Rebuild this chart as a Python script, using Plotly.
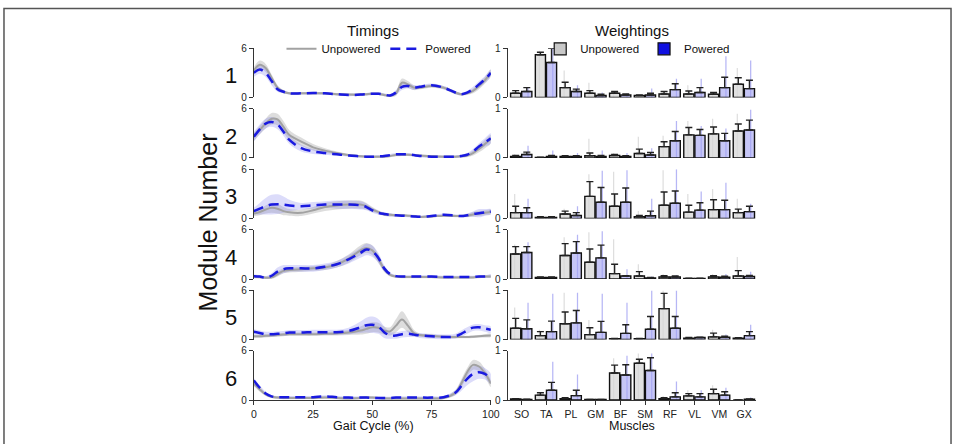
import plotly.graph_objects as go
from plotly.subplots import make_subplots

# ---------------- data ----------------
gait = [0, 2.5, 5, 7.5, 10, 12.5, 15, 20, 25, 30, 35, 40, 45, 47.5, 50, 52.5, 55, 57.5,
        60, 62.5, 65, 67.5, 70, 75, 80, 85, 87.5, 90, 92.5, 95, 97.5, 100]

timing_unp = [
    [3.3,4.0,3.6,2.4,1.2,0.7,0.5, 0.5,0.5,0.5,0.4,0.35,0.35, 0.4,0.45,0.45,0.3,0.2,0.5,1.8,1.6,1.2,1.2, 1.4,1.2,0.6,0.4,0.5,0.8,1.4,2.1,3.0],
    [2.6,3.4,4.2,4.8,4.7,3.8,2.8, 2.0,1.3,0.9,0.6,0.35,0.2, 0.15,0.15,0.15,0.15,0.25,0.35,0.4,0.4,0.35,0.3, 0.2,0.15,0.15,0.2,0.3,0.6,1.1,1.7,2.3],
    [0.6,0.8,1.1,1.3,1.2,0.9,0.75, 0.7,1.0,1.4,1.6,1.7,1.7, 1.5,1.1,0.8,0.5,0.45,0.4,0.4,0.35,0.3,0.2, 0.25,0.35,0.3,0.3,0.35,0.5,0.6,0.7,0.8],
    [0.3,0.25,0.15,0.2,0.6,1.0,1.1, 1.2,1.3,1.4,1.8,2.5,3.5, 3.8,3.5,2.5,1.2,0.5,0.3,0.25,0.25,0.25,0.25, 0.25,0.2,0.2,0.2,0.2,0.2,0.25,0.3,0.3],
    [0.4,0.4,0.45,0.5,0.55,0.6,0.65, 0.65,0.65,0.7,0.75,0.85,1.1, 1.3,1.5,1.45,1.1,1.0,1.7,2.45,1.7,0.8,0.55, 0.45,0.35,0.3,0.3,0.3,0.35,0.4,0.45,0.5],
    [2.0,1.3,0.7,0.4,0.3,0.25,0.25, 0.25,0.25,0.3,0.25,0.2,0.25, 0.3,0.3,0.25,0.2,0.2,0.2,0.2,0.2,0.2,0.2, 0.2,0.25,0.9,2.0,3.4,4.3,4.1,3.3,2.0],
]
timing_pow = [
    [3.0,3.4,3.0,2.0,1.0,0.7,0.5, 0.5,0.55,0.5,0.4,0.3,0.35, 0.4,0.45,0.45,0.35,0.25,0.6,1.3,1.4,1.2,1.3, 1.5,1.2,0.6,0.4,0.6,1.0,1.6,2.2,3.0],
    [2.6,3.5,4.2,4.4,4.1,3.2,2.2, 1.2,0.8,0.6,0.45,0.3,0.2, 0.15,0.15,0.2,0.25,0.35,0.45,0.45,0.45,0.35,0.25, 0.15,0.15,0.15,0.25,0.4,0.8,1.4,1.9,2.4],
    [0.9,1.2,1.5,1.7,1.75,1.7,1.6, 1.5,1.6,1.7,1.7,1.7,1.6, 1.4,1.0,0.7,0.55,0.45,0.4,0.35,0.3,0.25,0.2, 0.3,0.45,0.35,0.3,0.4,0.55,0.65,0.75,0.85],
    [0.35,0.3,0.15,0.4,0.9,1.2,1.3, 1.3,1.3,1.5,1.8,2.4,3.2, 3.6,3.4,2.6,1.3,0.6,0.35,0.3,0.3,0.3,0.3, 0.3,0.25,0.25,0.25,0.25,0.25,0.3,0.3,0.4],
    [0.95,0.8,0.65,0.65,0.7,0.75,0.85, 0.85,0.9,0.9,0.9,1.05,1.5, 1.75,1.8,1.6,0.9,0.5,0.5,0.65,0.7,0.6,0.5, 0.4,0.3,0.4,0.7,1.1,1.45,1.5,1.35,1.2],
    [2.4,1.5,0.8,0.45,0.35,0.35,0.35, 0.35,0.35,0.45,0.35,0.3,0.3, 0.3,0.25,0.25,0.25,0.25,0.3,0.3,0.3,0.3,0.3, 0.3,0.35,0.9,1.7,2.6,3.2,3.4,3.2,2.6],
]
timing_unp_sd = [
    [0.4,0.5,0.5,0.4,0.3,0.2,0.15, 0.15,0.15,0.15,0.15,0.15,0.15, 0.15,0.15,0.15,0.15,0.15,0.3,0.5,0.4,0.3,0.2, 0.2,0.2,0.2,0.15,0.2,0.3,0.4,0.4,0.4],
    [0.5,0.5,0.6,0.7,0.7,0.7,0.6, 0.5,0.4,0.3,0.2,0.15,0.15, 0.15,0.15,0.15,0.15,0.15,0.15,0.15,0.15,0.15,0.15, 0.15,0.15,0.15,0.15,0.2,0.3,0.4,0.5,0.5],
    [0.3,0.4,0.5,0.6,0.6,0.5,0.4, 0.4,0.4,0.5,0.5,0.5,0.5, 0.4,0.3,0.2,0.2,0.2,0.15,0.15,0.15,0.15,0.15, 0.15,0.15,0.15,0.15,0.2,0.3,0.3,0.3,0.3],
    [0.2,0.2,0.2,0.2,0.3,0.3,0.3, 0.3,0.3,0.3,0.4,0.5,0.6, 0.6,0.6,0.5,0.3,0.2,0.15,0.15,0.15,0.15,0.15, 0.15,0.15,0.15,0.15,0.15,0.15,0.15,0.15,0.15],
    [0.2,0.2,0.2,0.2,0.2,0.2,0.2, 0.2,0.2,0.2,0.25,0.3,0.5, 0.6,0.6,0.6,0.5,0.5,0.8,1.0,0.8,0.4,0.2, 0.2,0.15,0.15,0.15,0.15,0.15,0.15,0.2,0.2],
    [0.3,0.3,0.2,0.15,0.15,0.15,0.15, 0.15,0.15,0.15,0.15,0.15,0.15, 0.15,0.15,0.15,0.15,0.15,0.15,0.15,0.15,0.15,0.15, 0.15,0.15,0.3,0.5,0.5,0.6,0.6,0.5,0.4],
]
timing_pow_sd = [
    [0.5,0.5,0.5,0.5,0.3,0.2,0.15, 0.15,0.15,0.15,0.15,0.15,0.15, 0.15,0.15,0.15,0.15,0.15,0.3,0.4,0.3,0.3,0.2, 0.2,0.2,0.2,0.15,0.2,0.3,0.4,0.4,0.4],
    [0.6,0.6,0.6,0.6,0.6,0.5,0.5, 0.4,0.3,0.2,0.15,0.15,0.15, 0.15,0.15,0.15,0.15,0.15,0.15,0.15,0.15,0.15,0.15, 0.15,0.15,0.15,0.15,0.2,0.3,0.4,0.5,0.6],
    [0.4,0.7,1.0,1.2,1.2,1.0,0.7, 0.4,0.4,0.4,0.5,0.5,0.5, 0.4,0.3,0.2,0.2,0.2,0.15,0.15,0.15,0.15,0.15, 0.15,0.15,0.15,0.15,0.2,0.3,0.5,0.4,0.3],
    [0.2,0.2,0.2,0.3,0.5,0.5,0.4, 0.4,0.4,0.4,0.4,0.5,0.6, 0.7,0.7,0.6,0.4,0.2,0.15,0.15,0.15,0.15,0.15, 0.15,0.15,0.15,0.15,0.15,0.15,0.15,0.15,0.2],
    [0.3,0.3,0.3,0.3,0.3,0.3,0.3, 0.3,0.3,0.3,0.3,0.4,0.7, 0.9,1.0,0.9,0.7,0.4,0.4,0.4,0.4,0.3,0.3, 0.3,0.3,0.3,0.4,0.4,0.4,0.4,0.4,0.4],
    [0.3,0.3,0.2,0.15,0.15,0.15,0.15, 0.15,0.15,0.15,0.15,0.15,0.15, 0.15,0.15,0.15,0.15,0.15,0.15,0.15,0.15,0.15,0.15, 0.15,0.15,0.3,0.6,0.8,0.9,0.8,0.7,0.6],
]

muscles = ["SO", "TA", "PL", "GM", "BF", "SM", "RF", "VL", "VM", "GX"]

weight_unp = [
    [0.085,0.87,0.2,0.085,0.085,0.04,0.07,0.07,0.065,0.27],
    [0.03,0.01,0.03,0.045,0.05,0.09,0.23,0.47,0.49,0.55],
    [0.12,0.02,0.09,0.45,0.25,0.035,0.27,0.13,0.18,0.12],
    [0.51,0.03,0.48,0.34,0.11,0.06,0.04,0.01,0.04,0.06],
    [0.23,0.08,0.32,0.1,0.015,0.015,0.63,0.025,0.055,0.025],
    [0.02,0.1,0.03,0.01,0.55,0.75,0.03,0.085,0.13,0.0],
]
weight_unp_sd = [
    [0.055,0.05,0.11,0.055,0.035,0.01,0.05,0.06,0.035,0.13],
    [0.02,0.005,0.015,0.055,0.02,0.09,0.1,0.15,0.14,0.14],
    [0.13,0.015,0.06,0.3,0.25,0.025,0.27,0.14,0.2,0.07],
    [0.15,0.01,0.24,0.27,0.19,0.09,0.03,0.005,0.03,0.11],
    [0.2,0.08,0.24,0.14,0.005,0.005,0.31,0.015,0.075,0.01],
    [0.01,0.05,0.02,0.0,0.16,0.08,0.02,0.045,0.09,0.0],
]
weight_pow = [
    [0.12,0.71,0.12,0.04,0.05,0.05,0.16,0.1,0.2,0.18],
    [0.07,0.03,0.03,0.03,0.03,0.06,0.35,0.46,0.35,0.57],
    [0.12,0.02,0.06,0.33,0.33,0.055,0.31,0.17,0.18,0.14],
    [0.54,0.03,0.53,0.43,0.06,0.02,0.04,0.01,0.035,0.05],
    [0.22,0.16,0.34,0.145,0.125,0.21,0.23,0.04,0.045,0.08],
    [0.01,0.2,0.09,0.01,0.51,0.6,0.065,0.065,0.1,0.015],
]
weight_pow_sd = [
    [0.08,0.29,0.05,0.025,0.02,0.035,0.12,0.1,0.21,0.17],
    [0.05,0.02,0.015,0.02,0.015,0.05,0.19,0.12,0.15,0.2],
    [0.1,0.015,0.06,0.3,0.29,0.095,0.25,0.15,0.19,0.11],
    [0.12,0.01,0.23,0.26,0.01,0.01,0.02,0.005,0.02,0.025],
    [0.18,0.215,0.25,0.225,0.175,0.26,0.24,0.01,0.025,0.08],
    [0.005,0.16,0.11,0.0,0.21,0.26,0.085,0.065,0.07,0.005],
]
# largest individual-subject weighting (faint strips)
weight_unp_max = [
    [0.15,0.95,0.55,0.3,0.12,0.05,0.12,0.25,0.1,0.6],
    [0.08,0.02,0.05,0.39,0.1,0.43,0.45,0.75,0.8,0.9],
    [0.5,0.05,0.2,0.9,0.95,0.15,0.98,0.5,0.6,0.4],
    [0.7,0.05,0.85,0.95,0.81,0.3,0.1,0.02,0.1,0.45],
    [0.65,0.2,0.95,0.4,0.03,0.03,1.0,0.05,0.2,0.05],
    [0.04,0.15,0.06,0.02,0.85,0.95,0.08,0.2,0.3,0.01],
]
weight_pow_max = [
    [0.2,1.0,0.25,0.1,0.08,0.18,0.38,0.38,0.84,0.75],
    [0.25,0.15,0.1,0.15,0.1,0.2,0.75,0.65,0.6,0.98],
    [0.4,0.05,0.25,0.97,0.98,0.4,1.0,0.55,0.73,0.3],
    [0.75,0.04,0.9,0.97,0.2,0.05,0.08,0.02,0.1,0.15],
    [0.75,0.93,0.95,0.93,0.75,1.0,1.0,0.06,0.1,0.3],
    [0.02,0.78,0.52,0.02,0.9,0.95,0.38,0.2,0.25,0.05],
]
gait_ticks = [0, 25, 50, 75, 100]

# ---------------- figure ----------------
W, H = 962, 444
FONT = "Liberation Sans, Arial, Helvetica, sans-serif"
BLUE = "#1a1ae0"
GRAY_LINE = "#a2a2a2"

def pxx(x):
    return x / W

def pyy(y):
    return 1 - y / H

fig = make_subplots(rows=6, cols=2)
tops = [43.5 + 62.2 * i for i in range(6)]
panel_h = 50.5
mx = list(range(len(muscles)))

for i in range(6):
    r = i + 1
    # ----- timings -----
    up = [m + s for m, s in zip(timing_unp[i], timing_unp_sd[i])]
    lo = [m - s for m, s in zip(timing_unp[i], timing_unp_sd[i])]
    fig.add_trace(go.Scatter(x=gait + gait[::-1], y=up + lo[::-1], fill="toself",
                             fillcolor="rgba(150,150,150,0.32)", line=dict(width=0, shape="spline"),
                             mode="lines", showlegend=False, hoverinfo="skip"), row=r, col=1)
    up = [m + s for m, s in zip(timing_pow[i], timing_pow_sd[i])]
    lo = [m - s for m, s in zip(timing_pow[i], timing_pow_sd[i])]
    fig.add_trace(go.Scatter(x=gait + gait[::-1], y=up + lo[::-1], fill="toself",
                             fillcolor="rgba(120,120,235,0.26)", line=dict(width=0, shape="spline"),
                             mode="lines", showlegend=False, hoverinfo="skip"), row=r, col=1)
    fig.add_trace(go.Scatter(x=gait, y=timing_unp[i], mode="lines", name="Unpowered",
                             line=dict(color=GRAY_LINE, width=2, shape="spline"),
                             showlegend=(i == 0), legend="legend"), row=r, col=1)
    fig.add_trace(go.Scatter(x=gait, y=timing_pow[i], mode="lines", name="Powered",
                             line=dict(color=BLUE, width=2.5, shape="spline", dash="10px,6px"),
                             showlegend=(i == 0), legend="legend"), row=r, col=1)

    # ----- weightings -----
    fig.add_trace(go.Bar(x=mx, y=weight_unp_max[i], width=0.05, offset=-0.3,
                         marker=dict(color="rgba(200,200,200,0.6)", line=dict(width=0)),
                         showlegend=False, hoverinfo="skip"), row=r, col=2)
    fig.add_trace(go.Bar(x=mx, y=weight_pow_max[i], width=0.05, offset=0.24,
                         marker=dict(color="rgba(110,110,235,0.5)", line=dict(width=0)),
                         showlegend=False, hoverinfo="skip"), row=r, col=2)
    fig.add_trace(go.Bar(x=mx, y=weight_unp[i], width=0.41, offset=-0.44,
                         marker=dict(color="rgba(215,215,215,0.75)", line=dict(color="#111", width=1.4)),
                         error_y=dict(type="data", array=weight_unp_sd[i], arrayminus=[0] * 10,
                                      symmetric=False, color="#222", thickness=1.4, width=3.5),
                         showlegend=False), row=r, col=2)
    fig.add_trace(go.Bar(x=mx, y=weight_pow[i], width=0.41, offset=0.01,
                         marker=dict(color="rgba(160,160,240,0.6)", line=dict(color="#111", width=1.4)),
                         error_y=dict(type="data", array=weight_pow_sd[i], arrayminus=[0] * 10,
                                      symmetric=False, color="#222", thickness=1.4, width=3.5),
                         showlegend=False), row=r, col=2)

    dom_y = [pyy(tops[i] + panel_h), pyy(tops[i])]
    last = (i == 5)
    fig.update_xaxes(row=r, col=1, domain=[pxx(254), pxx(494)], range=[0, 100],
                     visible=last, showline=True, linecolor="#333", linewidth=1,
                     ticks="outside", ticklen=4, tickcolor="#333", tickvals=gait_ticks,
                     tickfont=dict(size=10.5, color="#222"), showgrid=False, zeroline=False)
    fig.update_yaxes(row=r, col=1, domain=dom_y, range=[0, 6], tickvals=[0, 6],
                     showline=True, linecolor="#333", linewidth=1, ticks="outside", ticklen=4,
                     tickcolor="#333", tickfont=dict(size=10, color="#222"),
                     showgrid=False, zeroline=False)
    fig.update_xaxes(row=r, col=2, domain=[pxx(511), pxx(763)], range=[-0.56, 9.5],
                     visible=last, showline=True, linecolor="#333", linewidth=1,
                     ticks="outside", ticklen=4, tickcolor="#333", tickvals=mx, ticktext=muscles,
                     tickfont=dict(size=10.5, color="#222"), showgrid=False, zeroline=False)
    fig.update_yaxes(row=r, col=2, domain=dom_y, range=[0, 1], tickvals=[0, 1],
                     showline=True, linecolor="#333", linewidth=1, ticks="outside", ticklen=4,
                     tickcolor="#333", tickfont=dict(size=10, color="#222"),
                     showgrid=False, zeroline=False)

# legend dummies for weightings
fig.add_trace(go.Bar(x=[None], y=[None], name="Unpowered", legend="legend2",
                     marker=dict(color="#c8c8c8", line=dict(color="#111", width=1.2))), row=1, col=2)
fig.add_trace(go.Bar(x=[None], y=[None], name="Powered", legend="legend2",
                     marker=dict(color="#1010e0", line=dict(color="#111", width=1.2))), row=1, col=2)

annotations = [
    dict(text="Timings", x=pxx(375), y=pyy(25), font=dict(size=15)),
    dict(text="Weightings", x=pxx(637), y=pyy(25), font=dict(size=15)),
    dict(text="Gait Cycle (%)", x=pxx(375), y=pyy(432), font=dict(size=12.5)),
    dict(text="Muscles", x=pxx(637), y=pyy(432), font=dict(size=12.5)),
    dict(text="Module Number", x=pxx(208), y=pyy(222), textangle=-90, font=dict(size=25)),
]
for i in range(6):
    annotations.append(dict(text=str(i + 1), x=pxx(231), y=pyy(tops[i] + 28), font=dict(size=22)))
for a in annotations:
    a.update(xref="paper", yref="paper", showarrow=False, xanchor="center", yanchor="middle")
    a["font"].update(color="#111", family=FONT)

fig.update_layout(
    width=W, height=H, margin=dict(l=0, r=0, t=0, b=0),
    paper_bgcolor="white", plot_bgcolor="white",
    font=dict(family=FONT, color="#111"),
    barmode="overlay", annotations=annotations,
    legend=dict(orientation="h", x=pxx(282), y=pyy(44), xanchor="left", yanchor="middle",
                font=dict(size=11.5), bgcolor="rgba(0,0,0,0)", itemwidth=30, tracegroupgap=0),
    legend2=dict(orientation="h", x=pxx(544), y=pyy(44), xanchor="left", yanchor="middle",
                 font=dict(size=11.5), bgcolor="rgba(0,0,0,0)", itemwidth=30),
    shapes=[dict(type="rect", xref="paper", yref="paper", x0=pxx(1), x1=pxx(960),
                 y0=-0.05, y1=pyy(2.5), line=dict(color="#555", width=1.5))],
)

fig.write_html("out.html")
